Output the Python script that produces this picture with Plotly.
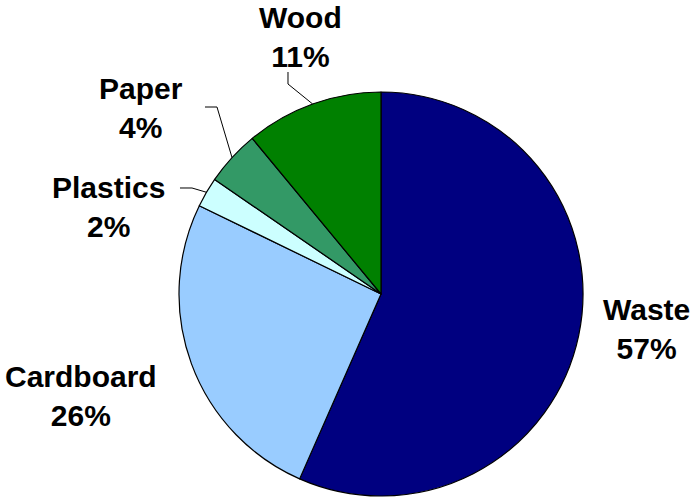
import math
import plotly.graph_objects as go

labels = ["Waste", "Cardboard", "Plastics", "Paper", "Wood"]
values = [56.6, 25.6, 2.4, 4.4, 11.0]
colors = ["#000080", "#99CCFF", "#CCFFFF", "#339966", "#008000"]

# label block centres (pixels) and leader-line elbows (layout only)
label_pos = {
    "Waste": (646, 329),
    "Cardboard": (81, 396),
    "Plastics": (109, 207),
    "Paper": (141, 108),
    "Wood": (300, 37),
}
leader_elbows = {
    "Plastics": [(180, 188), (192, 188)],
    "Paper": [(205, 107), (217, 107)],
    "Wood": [(288, 72), (288, 84)],
}

W, H = 696, 499
cx, cy, r = 381, 294, 202

def px(x):
    return x / W

def py(y):
    return 1 - y / H

fig = go.Figure(go.Pie(
    labels=labels,
    values=values,
    sort=False,
    direction="clockwise",
    rotation=0,
    marker=dict(colors=colors, line=dict(color="black", width=1.2)),
    textinfo="none",
    showlegend=False,
    hoverinfo="label+percent",
    domain=dict(x=[(cx - r) / W, (cx + r) / W],
                y=[(H - cy - r) / H, (H - cy + r) / H]),
))

total = sum(values)
cum = 0
annotations = []
shapes = []
for lab, val in zip(labels, values):
    mid = (cum + val / 2) / total * 2 * math.pi
    cum += val
    pct = math.floor(val / total * 100 + 0.5)
    lx, ly = label_pos[lab]
    annotations.append(dict(
        x=px(lx), y=py(ly), xref="paper", yref="paper",
        text=f"<b>{lab}</b><br><b>{pct}%</b>",
        showarrow=False, xanchor="center", yanchor="middle",
        font=dict(family="Liberation Sans", size=30, color="black"),
    ))
    if lab in leader_elbows:
        ex = cx + r * math.sin(mid)
        ey = cy - r * math.cos(mid)
        pts = leader_elbows[lab] + [(ex, ey)]
        path = "M " + " L ".join(f"{px(a):.5f},{py(b):.5f}" for a, b in pts)
        shapes.append(dict(type="path", path=path, xref="paper", yref="paper",
                           line=dict(color="black", width=1)))

fig.update_layout(
    width=W, height=H,
    margin=dict(l=0, r=0, t=0, b=0),
    paper_bgcolor="white",
    plot_bgcolor="white",
    font=dict(family="Liberation Sans", color="black"),
    annotations=annotations,
    shapes=shapes,
)
fig.write_html("out.html", config={"displayModeBar": False},
               post_script="document.body.style.margin='0';")
